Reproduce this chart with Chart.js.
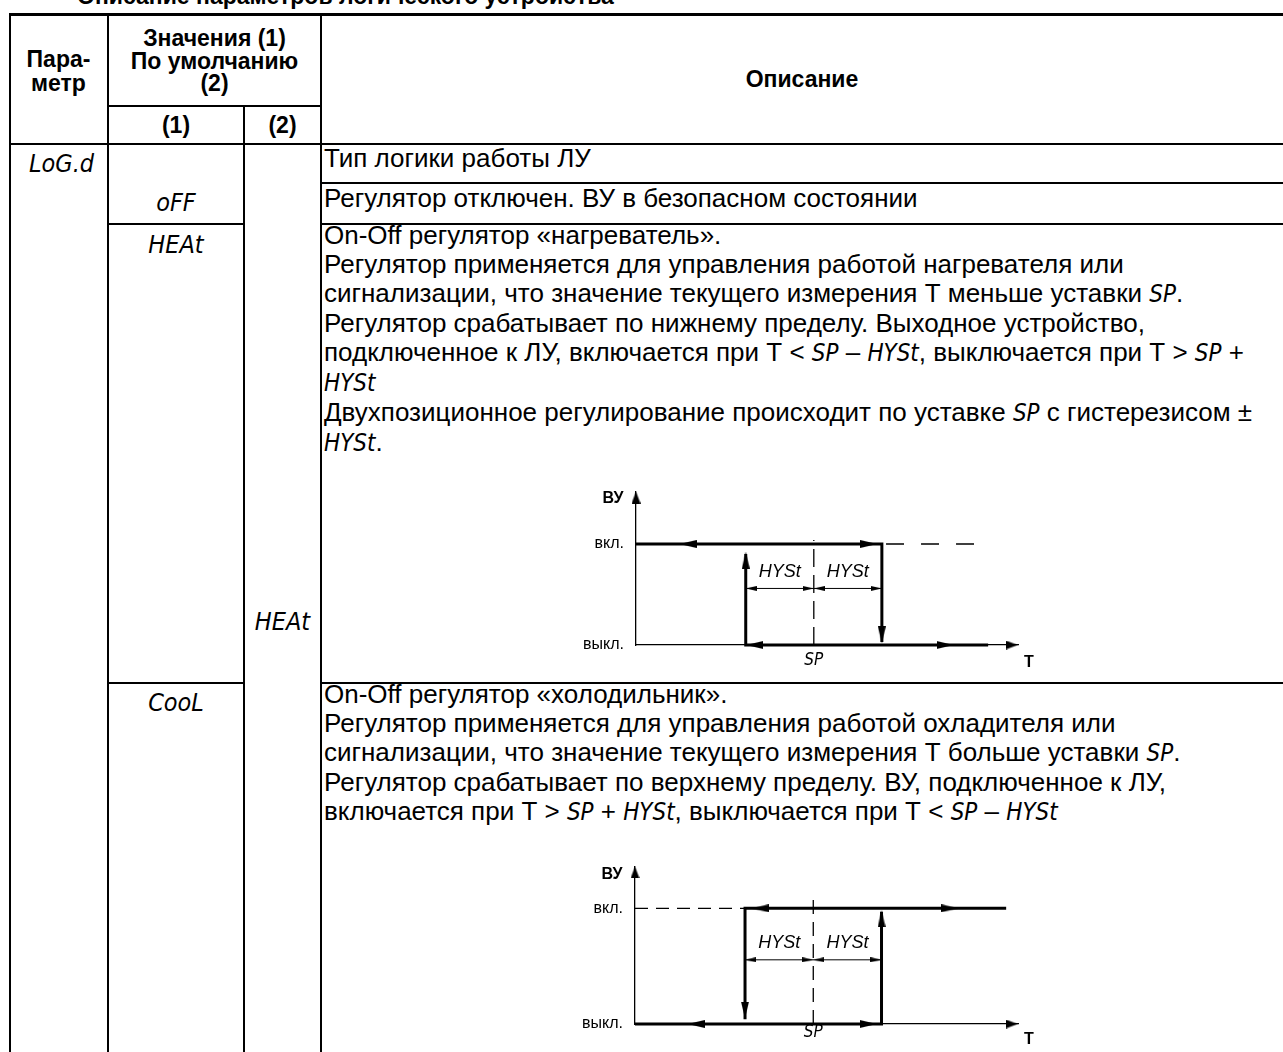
<!DOCTYPE html>
<html lang="ru">
<head>
<meta charset="utf-8">
<title>Параметры ЛУ</title>
<script src="https://cdn.jsdelivr.net/npm/chart.js@4.4.1/dist/chart.umd.min.js"></script>
<style>
body { margin: 0; background: #fff; }
#page { position: relative; width: 1283px; height: 1052px; overflow: hidden; font-family: "Liberation Sans", Arial, sans-serif; color: #000; }
.ln { position: absolute; background: #000; }
.hd { position: absolute; font-weight: bold; font-size: 23px; line-height: 22.5px; text-align: center; white-space: nowrap; }
.txt { position: absolute; left: 324px; font-size: 26px; line-height: 29px; white-space: nowrap; }
.seg { font-family: "Liberation Sans Narrow", "DejaVu Sans Condensed", "Liberation Sans", sans-serif; font-style: italic; }
.txt .seg { font-size: 0.92em; }
.sym { position: absolute; font-size: 25px; line-height: 30px; text-align: center; white-space: nowrap; }
canvas { position: absolute; }
</style>
</head>
<body>
<div id="page">
  <!-- заголовок таблицы, обрезан сверху -->
  <div class="hd" style="left:77px; top:-15px; text-align:left;">Описание параметров логического устройства</div>

  <!-- линии таблицы -->
  <div class="ln" style="left:9px; top:13px; width:1274px; height:3px;"></div>
  <div class="ln" style="left:9px; top:143px; width:1274px; height:2px;"></div>
  <div class="ln" style="left:108px; top:105px; width:213px; height:2px;"></div>
  <div class="ln" style="left:9px; top:13px; width:2px; height:1039px;"></div>
  <div class="ln" style="left:107px; top:13px; width:2px; height:1039px;"></div>
  <div class="ln" style="left:243px; top:105px; width:2px; height:947px;"></div>
  <div class="ln" style="left:320px; top:13px; width:2px; height:1039px;"></div>
  <div class="ln" style="left:320px; top:182px; width:963px; height:2px;"></div>
  <div class="ln" style="left:108px; top:223px; width:137px; height:2px;"></div>
  <div class="ln" style="left:320px; top:223px; width:963px; height:2px;"></div>
  <div class="ln" style="left:108px; top:682px; width:137px; height:2px;"></div>
  <div class="ln" style="left:320px; top:682px; width:963px; height:2px;"></div>

  <!-- шапка -->
  <div class="hd" style="left:9px; width:99px; top:47px; line-height:24px;">Пара-<br>метр</div>
  <div class="hd" style="left:108px; width:213px; top:27px;">Значения (1)<br>По умолчанию<br>(2)</div>
  <div class="hd" style="left:108px; width:136px; top:114px;">(1)</div>
  <div class="hd" style="left:244px; width:77px; top:114px;">(2)</div>
  <div class="hd" style="left:321px; width:962px; top:68px;">Описание</div>

  <!-- обозначения параметров -->
  <div class="sym seg" style="left:29px; top:149px; text-align:left;">LoG.d</div>
  <div class="sym seg" style="left:108px; width:136px; top:188px;">oFF</div>
  <div class="sym seg" style="left:108px; width:136px; top:230px;">HEAt</div>
  <div class="sym seg" style="left:244px; width:77px; top:607px;">HEAt</div>
  <div class="sym seg" style="left:108px; width:136px; top:688px;">CooL</div>

  <!-- описание -->
  <div class="txt" style="top:144px;">Тип логики работы ЛУ</div>
  <div class="txt" style="top:184px;">Регулятор отключен. ВУ в безопасном состоянии</div>
  <div class="txt" style="top:221px;">On-Off регулятор «нагреватель».<br>
Регулятор применяется для управления работой нагревателя или<br>
сигнализации, что значение текущего измерения Т меньше уставки <span class="seg">SP</span>.<br>
Регулятор срабатывает по нижнему пределу. Выходное устройство,<br>
подключенное к ЛУ, включается при Т &lt; <span class="seg">SP</span> – <span class="seg">HYSt</span>, выключается при Т &gt; <span class="seg">SP</span> +<br>
<span class="seg">HYSt</span><br>
Двухпозиционное регулирование происходит по уставке <span class="seg">SP</span> с гистерезисом ±<br>
<span class="seg">HYSt</span>.</div>
  <div class="txt" style="top:680px;">On-Off регулятор «холодильник».<br>
Регулятор применяется для управления работой охладителя или<br>
сигнализации, что значение текущего измерения Т больше уставки <span class="seg">SP</span>.<br>
Регулятор срабатывает по верхнему пределу. ВУ, подключенное к ЛУ,<br>
включается при Т &gt; <span class="seg">SP</span> + <span class="seg">HYSt</span>, выключается при Т &lt; <span class="seg">SP</span> – <span class="seg">HYSt</span></div>

  <canvas id="heatChart" width="490" height="205" style="left:560px; top:470px;"></canvas>
  <canvas id="coolChart" width="490" height="207" style="left:560px; top:845px;"></canvas>
</div>

<script>
'use strict'
//уровни выхода ВУ
const levelTicks = [0, 1];
const levelNames = ['выкл.', 'вкл.'];
//уставка и ширина гистерезиса по оси Т (условные единицы)
const spPoint = 2.56;
const hystWidth = 0.98;
const tAxisMax = 5.5;

//нагреватель: линии [x, y]
const heatOnLine = [[0, 1], [3.54, 1], [3.54, 0.03]];
const heatOffLine = [[1.58, 0.9], [1.58, 0], [5.07, 0]];
const heatDashLine = [[3.6, 1], [4.98, 1]];
const heatSpLine = [[2.56, 0], [2.56, 1.04]];
const heatDimLine = [[1.58, 0.56], [3.54, 0.56]];
//нагреватель: стрелки [x, y, поворот]
const heatArrowBig = [[0.75, 1, 270], [3.35, 1, 90], [1.58, 0.84, 0], [3.54, 0.10, 180], [1.71, 0, 270], [4.45, 0, 90]];
const heatArrowAxis = [[5.41, 0, 90], [0, 1.46, 0]];
const heatArrowDim = [[1.66, 0.56, 270], [2.48, 0.56, 90], [2.64, 0.56, 270], [3.46, 0.56, 90]];

//холодильник: линии [x, y]
const coolOnLine = [[1.58, 0.04], [1.58, 1], [5.33, 1]];
const coolOffLine = [[0, 0], [3.54, 0], [3.54, 0.97]];
const coolDashLine = [[0, 1], [1.58, 1]];
const coolSpLine = [[2.56, 0], [2.56, 1.1]];
const coolDimLine = [[1.58, 0.555], [3.54, 0.555]];
//холодильник: стрелки [x, y, поворот]
const coolArrowBig = [[1.80, 1, 270], [4.52, 1, 90], [1.58, 0.12, 180], [3.54, 0.91, 0], [0.88, 0, 270], [3.35, 0, 90]];
const coolArrowAxis = [[5.41, 0, 90], [0, 1.31, 0]];
const coolArrowDim = [[1.66, 0.555, 270], [2.48, 0.555, 90], [2.64, 0.555, 270], [3.46, 0.555, 90]];

const textFont = '"Liberation Sans", Arial, sans-serif';
const segFamily = '"Liberation Sans Narrow", "DejaVu Sans Condensed", "Liberation Sans", sans-serif';

//==================================================================================================

//наконечник стрелки (остриё вверх)
function arrowHead(w, h){
    const c = document.createElement('canvas');
    c.width = w;
    c.height = h;
    const g = c.getContext('2d');
    g.fillStyle = '#000';
    g.beginPath();
    g.moveTo(w / 2, 0);
    g.lineTo(w, h);
    g.lineTo(0, h);
    g.closePath();
    g.fill();
    return c;
}
const bigHead = arrowHead(8, 17);
const axisHead = arrowHead(9, 12);
const dimHead = arrowHead(5, 11);

function toPoints(list){
    return list.map((p) => ({ x: p[0], y: p[1] }));
}

function lineSet(list, width, dash){
    return {
        data: toPoints(list),
        showLine: true,
        borderColor: '#000',
        borderWidth: width,
        borderDash: dash || [],
        borderCapStyle: 'butt',
        borderJoinStyle: 'miter',
        pointRadius: 0,
        clip: false
    };
}

function arrowSet(list, head){
    return {
        data: toPoints(list),
        showLine: false,
        pointStyle: head,
        pointRotation: list.map((p) => p[2]),
        pointRadius: 3,
        clip: false
    };
}

//подписи ВУ, T, HYSt
const diagramLabels = {
    id: 'diagramLabels',
    afterDatasetsDraw(chart, args, opts){
        const { ctx, chartArea, scales } = chart;
        ctx.save();
        ctx.fillStyle = '#000';
        ctx.textAlign = 'center';
        ctx.textBaseline = 'middle';
        ctx.font = 'bold 16px ' + textFont;
        ctx.fillText('ВУ', chartArea.left - 23, chartArea.top + opts.vuDy);
        ctx.fillText('T', chartArea.right + 11, chartArea.bottom + opts.tDy);
        ctx.font = 'italic 18px ' + textFont;
        [spPoint - hystWidth / 2, spPoint + hystWidth / 2].forEach((x) => {
            ctx.fillText('HYSt', scales.x.getPixelForValue(x), scales.y.getPixelForValue(opts.hystY));
        });
        ctx.restore();
    }
};

function diagramOptions(cfg){
    return {
        responsive: false,
        animation: false,
        devicePixelRatio: 1,
        events: [],
        layout: { padding: { top: cfg.padTop, right: cfg.padRight, left: 0, bottom: 0 } },
        plugins: {
            legend: { display: false },
            tooltip: { enabled: false },
            diagramLabels: { vuDy: cfg.vuDy, tDy: cfg.tDy, hystY: cfg.hystY }
        },
        scales: {
            x: {
                type: 'linear',
                min: 0,
                max: tAxisMax,
                grid: { display: false, drawTicks: false },
                border: { display: true, color: '#000', width: 1.3 },
                afterBuildTicks: (s) => { s.ticks = [{ value: spPoint }]; },
                afterFit: (s) => { s.height = cfg.xHeight; },
                ticks: {
                    callback: () => 'SP',
                    padding: cfg.spPad,
                    color: '#000',
                    maxRotation: 0,
                    autoSkip: false,
                    font: { family: segFamily, size: 17, style: 'italic', lineHeight: 1 }
                }
            },
            y: {
                type: 'linear',
                min: 0,
                max: cfg.yMax,
                grid: { display: false, drawTicks: false },
                border: { display: true, color: '#000', width: 1.3 },
                afterBuildTicks: (s) => { s.ticks = levelTicks.map((v) => ({ value: v })); },
                afterFit: (s) => { s.width = cfg.yWidth; },
                ticks: {
                    callback: (v, i) => levelNames[i],
                    padding: 12,
                    color: '#000',
                    autoSkip: false,
                    font: { family: textFont, size: 16 }
                }
            }
        }
    };
}

//график «нагреватель»
new Chart(document.getElementById('heatChart'), {
    type: 'scatter',
    data: {
        datasets: [
            lineSet(heatOnLine, 3),
            lineSet(heatOffLine, 3),
            lineSet(heatDashLine, 1.3, [18, 17]),
            lineSet(heatSpLine, 1.3, [18, 8]),
            lineSet(heatDimLine, 1),
            arrowSet(heatArrowBig, bigHead),
            arrowSet(heatArrowAxis, axisHead),
            arrowSet(heatArrowDim, dimHead)
        ]
    },
    options: diagramOptions({ padTop: 17, padRight: 32, xHeight: 30, yWidth: 76, yMax: 1.519, spPad: 7, vuDy: 7, tDy: 18, hystY: 0.72 }),
    plugins: [diagramLabels]
});

//график «холодильник»
new Chart(document.getElementById('coolChart'), {
    type: 'scatter',
    data: {
        datasets: [
            lineSet(coolOnLine, 3),
            lineSet(coolOffLine, 3),
            lineSet(coolDashLine, 1.3, [13, 8]),
            lineSet(coolSpLine, 1.3, [14, 8]),
            lineSet(coolDimLine, 1),
            arrowSet(coolArrowBig, bigHead),
            arrowSet(coolArrowAxis, axisHead),
            arrowSet(coolArrowDim, dimHead)
        ]
    },
    options: diagramOptions({ padTop: 17, padRight: 32, xHeight: 28, yWidth: 75, yMax: 1.361, spPad: 0.5, vuDy: 8, tDy: 16, hystY: 0.70 }),
    plugins: [diagramLabels]
});
</script>
</body>
</html>
